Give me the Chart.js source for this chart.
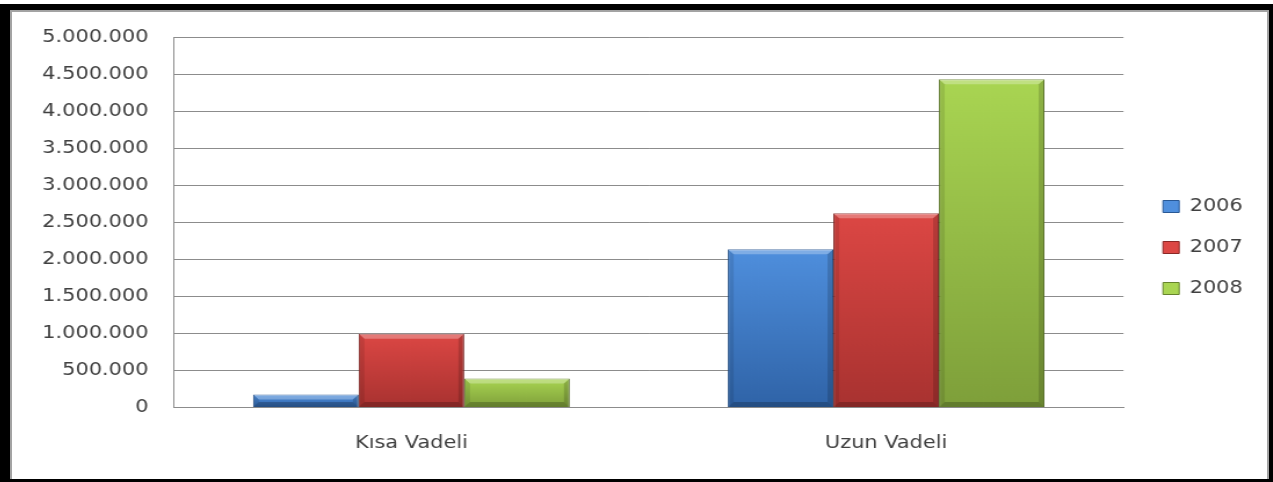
<!DOCTYPE html>
<html>
<head>
<meta charset="utf-8">
<script src="https://cdn.jsdelivr.net/npm/chart.js@4"></script>
<style>
  html, body { margin: 0; padding: 0; background: #fff; }
  #frame { position: absolute; left: 0; top: 4px; width: 1273px; height: 478px; background: #000; }
  #panel { position: absolute; left: 10px; top: 6px; width: 1259px; height: 469px; background: #fff;
           border: 2px solid #a3a3a3; border-bottom: none; box-sizing: border-box; }
  /* source picture is stretched sideways, so the chart is too */
  #wrap { position: absolute; left: 12px; top: 12px; width: 1082px; height: 467px;
          transform: scaleX(1.16); transform-origin: 0 0; }
</style>
</head>
<body>
<div id="frame"><div id="panel"></div></div>
<div id="wrap"><canvas id="barChart"></canvas></div>
<script>
// Data
const categories = ["Kısa Vadeli", "Uzun Vadeli"];
const years = ["2006", "2007", "2008"];
const values2006 = [175000, 2135000];
const values2007 = [995000, 2620000];
const values2008 = [390000, 4430000];

// Colours: top, bottom, edge, legend
const palette = [
  { top: "#4f8fdd", bottom: "#2f63a7", edge: "#295894", flat: "#3f7bc8" },
  { top: "#dc4744", bottom: "#a83230", edge: "#8a2826", flat: "#c43d3a" },
  { top: "#a9d552", bottom: "#7e9f3a", edge: "#66832d", flat: "#98c047" }
];

function fmt(v) {
  return String(v).replace(/\B(?=(\d{3})+(?!\d))/g, ".");
}

function barFill(i) {
  return function(ctx) {
    const p = palette[i];
    const chart = ctx.chart;
    if (ctx.type !== "data" || !chart.chartArea) return p.flat;
    const y = chart.scales.y;
    const top = y.getPixelForValue(ctx.raw);
    const bottom = y.getPixelForValue(0);
    if (!(bottom > top)) return p.flat;
    const g = chart.ctx.createLinearGradient(0, top, 0, bottom);
    g.addColorStop(0, p.top);
    g.addColorStop(1, p.bottom);
    return g;
  };
}

// bevelled edges on each bar, drawn from the bar elements
const bevel = {
  id: "bevel",
  afterDatasetsDraw(chart) {
    const c = chart.ctx;
    chart.data.datasets.forEach((ds, i) => {
      chart.getDatasetMeta(i).data.forEach(bar => {
        const { x, y, base, width } = bar.getProps(["x", "y", "base", "width"], true);
        const l = x - width / 2, r = x + width / 2, t = y, b = base;
        const d = Math.min(5, (b - t) / 2);
        c.save();
        c.fillStyle = "rgba(255,255,255,0.28)";
        c.beginPath(); c.moveTo(l, t); c.lineTo(r, t); c.lineTo(r - d, t + d); c.lineTo(l + d, t + d); c.closePath(); c.fill();
        c.fillStyle = "rgba(0,0,0,0.22)";
        c.beginPath(); c.moveTo(l, b); c.lineTo(r, b); c.lineTo(r - d, b - d); c.lineTo(l + d, b - d); c.closePath(); c.fill();
        c.fillStyle = "rgba(0,0,0,0.10)";
        c.beginPath(); c.moveTo(l, t); c.lineTo(l + d, t + d); c.lineTo(l + d, b - d); c.lineTo(l, b); c.closePath(); c.fill();
        c.fillStyle = "rgba(0,0,0,0.16)";
        c.beginPath(); c.moveTo(r, t); c.lineTo(r - d, t + d); c.lineTo(r - d, b - d); c.lineTo(r, b); c.closePath(); c.fill();
        c.restore();
      });
    });
  }
};

// nudge legend away from the plot
const legendShift = {
  id: "legendShift",
  afterLayout(chart, args, opts) {
    const lg = chart.legend;
    if (!lg) return;
    lg.left += opts.dx; lg.right += opts.dx;
    lg.top += opts.dy; lg.bottom += opts.dy;
  }
};

Chart.defaults.font.family = "'DejaVu Sans', sans-serif";
Chart.defaults.font.size = 18;
Chart.defaults.color = "#404040";

const seriesValues = [values2006, values2007, values2008];

let barChart = new Chart(document.getElementById("barChart"), {
  type: "bar",
  data: {
    labels: categories,
    datasets: years.map((yr, i) => ({
      label: yr,
      data: seriesValues[i],
      backgroundColor: barFill(i),
      borderColor: palette[i].edge,
      borderWidth: 1,
      categoryPercentage: 0.667,
      barPercentage: 1
    }))
  },
  options: {
    responsive: true,
    maintainAspectRatio: false,
    animation: false,
    layout: { padding: { left: 0, right: 22, top: 25, bottom: 0 } },
    plugins: {
      legend: {
        position: "right",
        labels: { boxWidth: 14, boxHeight: 12, padding: 23, color: "#404040" }
      },
      legendShift: { dx: 11, dy: -10.5 },
      tooltip: { enabled: false }
    },
    scales: {
      x: {
        grid: { display: false, drawTicks: false },
        border: { display: true, color: "#8c8c8c" },
        ticks: { padding: 25 }
      },
      y: {
        min: 0,
        max: 5000000,
        grid: { color: "#8c8c8c", drawTicks: false },
        border: { display: true, color: "#8c8c8c" },
        ticks: { stepSize: 500000, padding: 22, callback: v => fmt(v) },
        afterFit: s => { s.width = 139.7; s.paddingTop = 11; s.paddingBottom = 11; }
      }
    }
  },
  plugins: [bevel, legendShift]
});
</script>
</body>
</html>
